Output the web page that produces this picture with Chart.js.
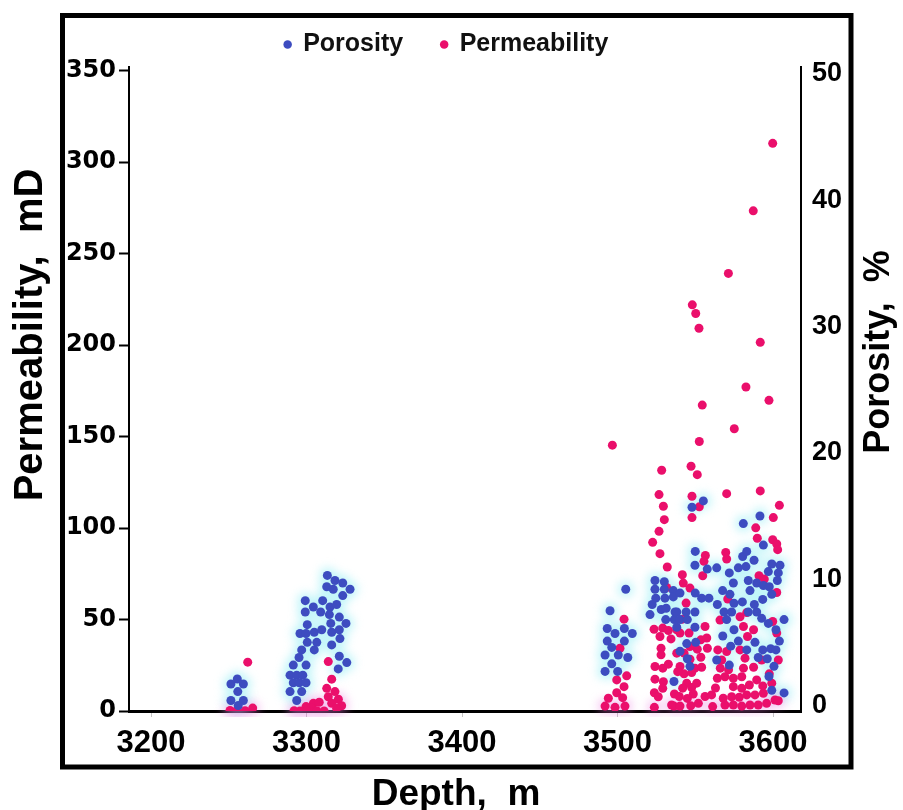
<!DOCTYPE html>
<html>
<head>
<meta charset="utf-8">
<style>
  html, body { margin: 0; padding: 0; background: #fff; }
  #wrap { width: 903px; height: 810px; }
</style>
<script src="https://cdn.jsdelivr.net/npm/chart.js@4.4.1/dist/chart.umd.min.js"></script>
</head>
<body>
<div id="wrap"><canvas id="chart" width="903" height="810"></canvas></div>
<script>
// Axis ticks
const depthTicks = [3200, 3300, 3400, 3500, 3600];
const permeabilityTicks = [0, 50, 100, 150, 200, 250, 300, 350];
const porosityTicks = [0, 10, 20, 30, 40, 50];

// Porosity samples: [depth m, porosity %]
const porosity = [
  // 3250-3260 m
  [3251.4,1.7],[3255.5,2.1],[3259.4,1.7],[3255.8,1.1],[3251.4,0.4],[3259.4,0.4],[3256.1,0.0],
  // 3290-3330 m
  [3313.4,10.3],[3318.3,9.9],[3323.3,9.7],[3328.0,9.2],[3313.0,9.4],[3317.2,9.2],[3323.3,8.7],
  [3299.2,8.3],[3310.4,8.3],[3304.4,7.8],[3315.1,7.8],[3319.4,8.0],[3299.2,7.4],[3309.1,7.4],
  [3314.7,7.2],[3321.1,7.0],[3325.4,6.5],[3300.5,6.4],[3295.8,5.7],[3299.7,5.7],[3305.0,5.8],
  [3309.8,6.0],[3315.6,6.5],[3316.2,5.8],[3321.1,6.0],[3321.5,5.3],[3300.5,5.0],[3306.6,5.0],
  [3316.2,4.8],[3296.9,4.4],[3305.0,4.4],[3295.2,3.8],[3321.1,3.9],[3325.9,3.4],[3320.4,2.9],
  [3291.5,3.2],[3299.7,3.2],[3289.4,2.4],[3293.7,2.4],[3297.6,2.4],[3291.5,1.8],[3295.4,1.8],
  [3299.7,1.8],[3289.4,1.1],[3296.9,1.1],[3293.7,0.4],
  // 3490-3510 m
  [3505.3,9.2],[3495.2,7.5],[3493.4,6.1],[3498.4,5.7],[3504.4,6.1],[3509.5,5.7],[3493.4,5.1],
  [3504.4,5.1],[3496.3,4.6],[3492.0,4.0],[3500.5,4.0],[3506.6,3.8],[3496.3,3.3],[3492.0,2.7],
  [3500.1,2.7],
  // 3520-3540 m
  [3524.1,9.9],[3530.1,9.8],[3524.1,9.2],[3530.1,9.2],[3535.9,9.1],[3524.6,8.5],[3530.5,8.5],
  [3535.9,8.6],[3522.3,8.0],[3528.1,7.6],[3531.3,7.7],[3520.9,7.2],[3537.0,7.4],[3531.0,6.8],
  [3536.5,6.8],[3538.1,6.2],[3536.3,1.9],
  // 3540-3610 m
  [3555.2,16.2],[3547.9,15.7],[3591.6,15.0],[3580.9,14.4],[3593.8,12.7],
  [3550.0,12.2],[3549.8,11.1],[3557.7,10.8],[3563.8,10.9],[3580.5,11.8],[3583.1,12.2],[3587.8,11.5],
  [3577.7,10.9],[3582.6,11.0],[3571.9,10.5],[3574.5,9.7],[3584.1,9.9],[3589.5,9.7],[3593.8,9.5],
  [3599.2,11.2],[3604.5,11.1],[3597.0,10.6],[3603.4,10.5],[3602.8,9.9],[3597.6,9.4],
  [3540.2,8.9],[3550.0,8.9],[3554.1,8.5],[3558.8,8.5],[3564.2,8.0],[3567.6,9.1],[3572.3,8.8],
  [3574.9,8.1],[3580.3,8.2],[3585.2,9.1],[3588.0,8.0],[3593.4,8.4],[3599.2,8.8],
  [3538.1,7.4],[3544.1,7.4],[3549.8,7.4],[3540.2,6.8],[3544.9,6.8],[3549.8,6.2],
  [3568.5,7.4],[3573.4,7.4],[3570.2,6.8],[3574.9,6.0],[3584.1,7.4],[3589.5,7.4],[3592.7,6.9],
  [3597.0,6.5],[3607.1,6.8],[3601.9,6.0],
  [3544.5,4.9],[3550.3,5.0],[3540.2,4.3],[3544.9,3.7],[3563.8,3.6],[3567.7,5.5],[3572.8,4.7],
  [3577.7,5.1],[3583.1,4.4],[3588.4,5.0],[3593.4,4.4],[3598.5,4.5],[3604.1,5.1],[3601.9,4.4],
  [3590.5,3.8],[3596.3,3.7],[3600.6,3.1],[3597.4,2.3],[3607.1,1.0],[3599.2,1.2],[3546.6,3.1],
  [3571.9,3.2]
];

// Permeability samples: [depth m, permeability mD]
const permeability = [
  // 3250-3265 m
  [3262.2,26.7],[3250.8,0.3],[3255.1,0.0],[3260.5,0.2],[3265.4,1.6],
  // 3290-3325 m
  [3314.0,27.0],[3316.2,17.4],[3313.0,12.4],[3318.3,10.6],[3314.0,7.8],[3320.5,6.4],[3316.2,4.2],
  [3322.6,2.9],[3304.4,4.2],[3308.2,4.8],[3299.7,2.4],[3303.3,1.5],[3295.8,0.0],[3292.0,0.2],
  [3300.1,0.0],[3306.6,0.2],[3311.3,0.0],[3319.4,1.5],
  // 3490-3510 m
  [3496.7,145.3],[3504.2,50.2],[3501.6,34.3],[3505.9,19.2],[3499.5,17.0],[3504.2,13.3],
  [3499.5,10.0],[3494.1,7.0],[3503.3,7.3],[3492.0,2.7],[3498.4,2.0],[3504.8,2.7],
  // 3520-3540 m
  [3528.4,131.6],[3526.7,118.3],[3529.5,111.9],[3530.1,104.6],[3526.7,98.2],[3522.6,92.2],
  [3527.3,86.0],[3532.0,78.7],[3531.6,67.5],[3523.5,44.7],[3529.1,45.3],[3532.7,44.0],
  [3538.1,44.4],[3527.3,40.7],[3534.4,39.4],[3528.0,34.3],[3538.1,31.6],[3528.0,30.7],
  [3524.1,24.3],[3529.1,23.4],[3532.7,25.6],[3524.1,17.4],[3529.5,16.0],[3529.1,12.4],
  [3523.7,10.0],[3536.6,9.3],[3526.2,7.8],[3523.7,2.0],[3536.3,2.7],
  // 3545-3605 m, high values
  [3599.8,310.3],[3587.3,273.4],[3571.3,239.2],[3548.1,222.0],[3550.3,217.3],[3552.4,209.2],
  [3591.8,201.5],[3582.6,177.1],[3554.5,167.2],[3597.4,169.8],[3575.1,154.3],[3552.6,147.3],
  [3547.3,133.8],[3551.3,129.2],[3570.2,118.8],[3591.8,120.3],[3547.9,117.4],[3552.6,111.6],
  [3547.9,105.7],[3604.1,112.4],[3600.2,105.7],[3588.9,100.1],[3589.9,94.4],[3599.8,93.6],
  [3602.4,91.3],[3603.0,88.2],
  // 3535-3605 m, low values
  [3541.7,74.5],[3542.3,69.9],[3546.6,67.2],[3556.5,85.0],[3555.6,81.8],[3554.8,73.9],
  [3569.6,86.7],[3570.2,83.1],[3591.0,73.9],[3594.4,72.1],[3602.4,64.8],[3544.1,59.0],
  [3570.9,61.2],[3583.1,53.8],[3599.8,48.9],[3602.4,42.6],[3556.3,46.2],[3541.7,50.2],
  [3540.2,42.6],[3546.0,42.6],[3553.6,38.9],[3557.4,39.9],[3557.8,34.3],[3551.3,33.8],
  [3546.6,35.2],[3542.8,31.6],[3553.6,29.4],[3546.6,28.3],[3540.2,24.3],[3542.8,20.3],
  [3549.8,23.4],[3554.1,23.9],[3538.7,21.5],[3547.7,21.0],[3544.5,15.2],[3541.9,12.5],
  [3547.7,12.8],[3550.9,15.2],[3556.3,7.9],[3548.7,9.3],[3544.9,6.9],[3539.7,7.9],
  [3534.8,3.3],[3540.2,2.7],[3547.1,2.9],[3552.0,4.2],[3561.2,2.4],[3568.0,7.0],
  [3569.1,3.3],[3564.2,17.9],[3569.1,18.7],[3566.1,23.4],[3571.4,22.5],[3574.5,17.9],
  [3579.9,18.7],[3574.5,13.3],[3579.9,12.4],[3584.8,14.2],[3589.5,17.0],[3573.4,7.8],
  [3578.3,7.5],[3583.1,8.8],[3588.4,8.8],[3593.8,9.7],[3574.5,3.3],[3579.9,2.7],
  [3585.2,3.3],[3590.5,3.3],[3595.9,4.2],[3601.3,6.0],[3593.4,13.7],[3599.2,15.2],
  [3597.6,20.3],[3581.0,23.4],[3587.5,23.9],[3592.7,27.9],[3582.0,28.9],[3578.8,33.4],
  [3570.2,32.5],[3567.0,27.9],[3583.6,40.7],[3587.5,44.4],[3581.0,46.2],[3564.5,33.4],
  [3603.4,27.9],[3603.4,5.6],[3560.5,8.8],[3563.0,12.6],[3565.9,49.7],[3578.8,51.5]
];

const seriesNames = ['Porosity', 'Permeability'];
const seriesColors = ['#3d4cc0', '#ea0f6b'];
const axisTitles = { x: 'Depth,  m', left: 'Permeability,  mD', right: 'Porosity,  %' };

const FONT = "'Liberation Sans', Arial, Helvetica, sans-serif";

const toPoints = rows => rows.map(([x, y]) => ({ x, y }));
const fixTicks = values => scale => { scale.ticks = values.map(v => ({ value: v })); };
const plainLabel = v => String(v);

// Soft glow behind the point clouds and the figure frame with its axis titles
const decorations = {
  id: 'decorations',
  beforeDatasetsDraw(chart) {
    const { ctx, chartArea: a } = chart;
    ctx.save();
    ctx.beginPath();
    ctx.rect(a.left + 2, a.top, a.right - a.left - 4, a.bottom - a.top + 6);
    ctx.clip();
    ctx.filter = 'blur(5px)';
    ctx.fillStyle = 'rgba(120,232,242,0.45)';
    ctx.beginPath();
    chart.getDatasetMeta(0).data.forEach(p => { ctx.moveTo(p.x + 8, p.y); ctx.arc(p.x, p.y, 8, 0, Math.PI * 2); });
    ctx.fill();
    ctx.fillStyle = 'rgba(232,120,222,0.45)';
    ctx.beginPath();
    chart.getDatasetMeta(1).data.forEach(p => {
      if (p.y > a.bottom - 12) { ctx.moveTo(p.x + 7, p.y); ctx.arc(p.x, p.y, 7, 0, Math.PI * 2); }
    });
    ctx.fill();
    ctx.restore();
  },
  afterDraw(chart) {
    const ctx = chart.ctx;
    ctx.save();
    ctx.strokeStyle = '#000';
    ctx.lineWidth = 5;
    ctx.strokeRect(62.5, 15.5, 788.5, 751.5);
    ctx.fillStyle = '#000';
    ctx.textAlign = 'center';
    ctx.textBaseline = 'alphabetic';
    ctx.font = `bold 37px ${FONT}`;
    ctx.fillText(axisTitles.x, 456, 805);
    ctx.font = `bold 40px ${FONT}`;
    ctx.save(); ctx.translate(42, 335); ctx.rotate(-Math.PI / 2); ctx.fillText(axisTitles.left, 0, 0); ctx.restore();
    ctx.font = `bold 36px ${FONT}`;
    ctx.save(); ctx.translate(889, 352); ctx.rotate(-Math.PI / 2); ctx.fillText(axisTitles.right, 0, 0); ctx.restore();
    ctx.restore();
  }
};

new Chart(document.getElementById('chart'), {
  type: 'scatter',
  data: {
    datasets: [
      { label: seriesNames[0], data: toPoints(porosity), yAxisID: 'yRight',
        backgroundColor: seriesColors[0], borderWidth: 0, pointRadius: 4.5, pointHoverRadius: 4.5 },
      { label: seriesNames[1], data: toPoints(permeability), yAxisID: 'yLeft',
        backgroundColor: seriesColors[1], borderWidth: 0, pointRadius: 4.5, pointHoverRadius: 4.5 }
    ]
  },
  options: {
    responsive: false,
    devicePixelRatio: 1,
    animation: false,
    layout: { padding: { top: -12.5, left: 0, right: 10, bottom: 0 } },
    plugins: {
      legend: {
        position: 'top',
        labels: {
          usePointStyle: true, pointStyle: 'circle', boxWidth: 6, boxHeight: 6,
          padding: 38, color: '#111', font: { family: FONT, size: 25, weight: 'bold' }
        }
      },
      tooltip: { enabled: false }
    },
    scales: {
      x: {
        type: 'linear', position: 'bottom', min: 3185.85, max: 3618, z: 1,
        afterBuildTicks: fixTicks(depthTicks),
        afterFit: s => { s.height = 99; },
        border: { color: '#000', width: 3 },
        grid: { drawOnChartArea: false, drawTicks: true, tickLength: 6, tickColor: '#c4c4c4', tickWidth: 1 },
        ticks: { color: '#000', padding: 8, maxRotation: 0, autoSkip: false, callback: plainLabel,
                 font: { family: FONT, size: 31, weight: 'bold' } }
      },
      yLeft: {
        type: 'linear', position: 'left', min: 0, max: 352,
        afterBuildTicks: fixTicks(permeabilityTicks),
        afterFit: s => { s.width = 129; },
        border: { color: '#000', width: 2 },
        grid: { drawOnChartArea: false, drawTicks: true, tickLength: 10, tickColor: '#000', tickWidth: 2 },
        ticks: { color: '#000', padding: 3, autoSkip: false, callback: plainLabel,
                 font: { family: "'DejaVu Sans', Verdana, sans-serif", size: 24, weight: 'bold' } }
      },
      yRight: {
        type: 'linear', position: 'right', min: -0.435, max: 50.55,
        afterBuildTicks: fixTicks(porosityTicks),
        afterFit: s => { s.width = 92; },
        border: { color: '#000', width: 2 },
        grid: { drawOnChartArea: false, drawTicks: false },
        ticks: { color: '#000', padding: 11, autoSkip: false, callback: plainLabel,
                 font: { family: FONT, size: 27, weight: 'bold', lineHeight: 4.15 } }
      }
    }
  },
  plugins: [decorations]
});
</script>
</body>
</html>
